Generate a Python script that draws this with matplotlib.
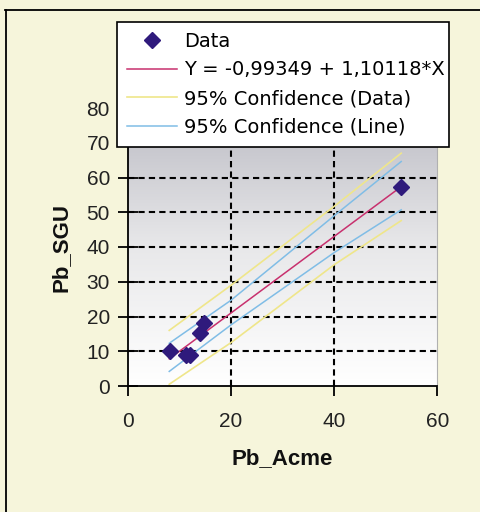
import numpy as np
import matplotlib
matplotlib.use("Agg")
import matplotlib.pyplot as plt
from matplotlib.colors import LinearSegmentedColormap

# data
pb_acme = [8.2, 11.3, 12.0, 13.9, 14.7, 53.0]
pb_sgu = [10.0, 8.9, 8.9, 15.2, 18.2, 57.4]

band_x = [8, 20, 40, 53]
fit_y = [7.82, 21.03, 43.05, 57.37]
data_hi = [16.0, 29.0, 51.7, 67.0]
data_lo = [0.5, 12.5, 34.9, 47.6]
line_hi = [12.3, 24.7, 49.0, 64.6]
line_lo = [4.2, 17.6, 38.4, 50.7]

xticks = [0, 20, 40, 60]
yticks = [0, 10, 20, 30, 40, 50, 60, 70, 80]

BG = "#f6f5db"

fig = plt.figure(figsize=(4.81, 5.12), dpi=100, facecolor=BG)
ax = fig.add_axes([128 / 481, (512 - 386) / 512, (437.3 - 128) / 481, 278 / 512])

# grey-to-white gradient in the plot area
cmap = LinearSegmentedColormap.from_list("g", ["#ffffff", "#e8e8ea", "#bcbcc4"])
grad = np.linspace(0, 1, 256).reshape(-1, 1)
ax.imshow(grad, extent=[0, 60, 0, 80], origin="lower", aspect="auto", cmap=cmap, zorder=0)

ax.set_xlim(0, 60)
ax.set_ylim(0, 80)

for v in yticks[1:]:
    ax.axhline(v, color="black", lw=1.5, ls=(0, (3, 2)), zorder=1)
for v in xticks[1:3]:
    ax.axvline(v, color="black", lw=1.5, ls=(0, (3, 2)), zorder=1)

ax.plot(band_x, data_hi, color="#efe68a", lw=1.2, zorder=2, label="95% Confidence (Data)")
ax.plot(band_x, data_lo, color="#efe68a", lw=1.2, zorder=2)
ax.plot(band_x, line_hi, color="#80bde6", lw=1.1, zorder=2, label="95% Confidence (Line)")
ax.plot(band_x, line_lo, color="#80bde6", lw=1.1, zorder=2)
ax.plot(band_x, fit_y, color="#c8306e", lw=1.1, zorder=3, label="Y = -0,99349 + 1,10118*X")
ax.plot(pb_acme, pb_sgu, ls="none", marker="D", ms=8, color="#2f1a7c", zorder=4, label="Data")

ax.set_xticks(xticks)
ax.set_yticks(yticks)
ax.tick_params(axis="y", direction="inout", length=14, width=1.3, pad=6, labelsize=15)
ax.tick_params(axis="x", direction="out", length=7, width=1.3, pad=12, labelsize=15)
for lab in ax.get_xticklabels() + ax.get_yticklabels():
    lab.set_fontfamily("Liberation Sans")
    lab.set_color("#222222")

ax.spines["top"].set_visible(False)
ax.spines["right"].set_color("#b0b0b0")
ax.spines["left"].set_linewidth(1.3)
ax.spines["bottom"].set_linewidth(1.3)

fig.text(282 / 481, (512 - 459) / 512, "Pb_Acme", ha="center", va="center",
         fontsize=16, fontweight="bold", family="Liberation Sans", color="#111111")
fig.text(61 / 481, (512 - 247) / 512, "Pb_SGU", ha="center", va="center", rotation=90,
         fontsize=16, fontweight="bold", family="Liberation Sans", color="#111111")

handles, labels = ax.get_legend_handles_labels()
order = [3, 2, 0, 1]
leg = fig.legend([handles[i] for i in order], [labels[i] for i in order],
                 loc="upper left", bbox_to_anchor=(117 / 481, (512 - 149) / 512, 332 / 481, 127 / 512),
                 mode="expand", fancybox=False, framealpha=1, edgecolor="black",
                 prop={"family": "DejaVu Sans", "size": 14}, handlelength=2.6,
                 handletextpad=0.35, borderpad=0.5, labelspacing=0.5, borderaxespad=0)
leg.get_frame().set_linewidth(1.2)
leg.set_zorder(10)

# outer frame (only top and left edges visible in the original)
fig.add_artist(plt.Line2D([5 / 481, 1], [1 - 9.5 / 512, 1 - 9.5 / 512], color="black", lw=1.3))
fig.add_artist(plt.Line2D([5.5 / 481, 5.5 / 481], [0, 1 - 9.5 / 512], color="black", lw=1.3))

fig.savefig("out.png", dpi=100, facecolor=BG)
